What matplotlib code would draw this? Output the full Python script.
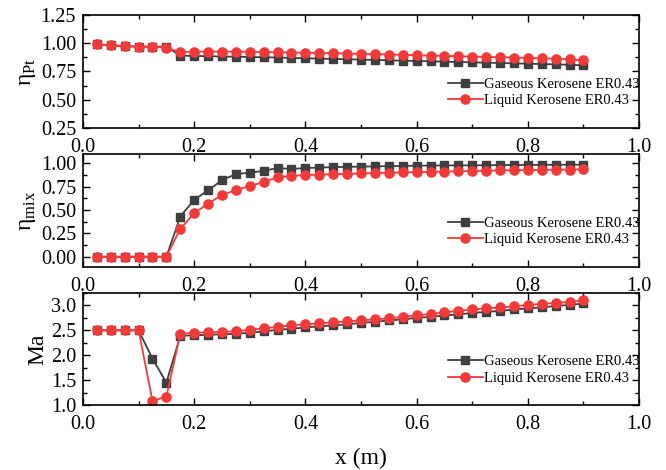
import numpy as np
import matplotlib
matplotlib.use("Agg")
import matplotlib.pyplot as plt
from matplotlib.ticker import MultipleLocator

plt.rcParams['font.family'] = ['Liberation Serif', 'DejaVu Serif']
plt.rcParams['mathtext.fontset'] = 'custom'
plt.rcParams['mathtext.rm'] = 'Liberation Serif'

# axial stations along the combustor
x = [0.025 * k for k in range(1, 37)]

eta_pt_gas = [0.99, 0.98, 0.975, 0.97, 0.97, 0.97,
              0.89, 0.888, 0.885, 0.883, 0.881, 0.878, 0.876, 0.873, 0.870, 0.867,
              0.864, 0.861, 0.858, 0.855, 0.852, 0.849, 0.846, 0.843, 0.840, 0.837,
              0.834, 0.831, 0.828, 0.825, 0.822, 0.819, 0.816, 0.813, 0.810, 0.803]
eta_pt_liq = [0.99, 0.98, 0.975, 0.97, 0.97, 0.96,
              0.92, 0.926, 0.926, 0.926, 0.925, 0.924, 0.922, 0.920, 0.918, 0.916,
              0.914, 0.912, 0.909, 0.906, 0.903, 0.900, 0.897, 0.894, 0.891, 0.888,
              0.885, 0.882, 0.879, 0.876, 0.873, 0.870, 0.867, 0.863, 0.858, 0.848]

eta_mix_gas = [0, 0, 0, 0, 0, 0,
               0.43, 0.61, 0.71, 0.82, 0.885, 0.90, 0.92, 0.95, 0.94, 0.95,
               0.955, 0.96, 0.962, 0.965, 0.968, 0.97, 0.972, 0.975, 0.976, 0.978,
               0.978, 0.98, 0.98, 0.982, 0.982, 0.983, 0.984, 0.985, 0.985, 0.986]
eta_mix_liq = [0, 0, 0, 0, 0, 0,
               0.30, 0.465, 0.57, 0.66, 0.715, 0.757, 0.80, 0.85, 0.867, 0.875,
               0.88, 0.885, 0.888, 0.892, 0.896, 0.90, 0.903, 0.906, 0.909, 0.912,
               0.915, 0.918, 0.921, 0.924, 0.926, 0.928, 0.930, 0.932, 0.934, 0.936]

ma_gas = [2.5, 2.5, 2.5, 2.5, 1.93, 1.45,
          2.39, 2.40, 2.41, 2.42, 2.43, 2.45, 2.48, 2.51, 2.53, 2.56,
          2.58, 2.60, 2.62, 2.65, 2.67, 2.70, 2.72, 2.75, 2.77, 2.80,
          2.82, 2.85, 2.87, 2.89, 2.92, 2.94, 2.96, 2.99, 3.01, 3.04]
ma_liq = [2.5, 2.5, 2.5, 2.5, 1.08, 1.17,
          2.43, 2.45, 2.46, 2.47, 2.48, 2.51, 2.54, 2.57, 2.60, 2.62,
          2.64, 2.66, 2.68, 2.70, 2.72, 2.74, 2.77, 2.80, 2.83, 2.86,
          2.89, 2.92, 2.94, 2.96, 2.98, 3.01, 3.03, 3.05, 3.07, 3.10]

lbl_gas = 'Gaseous Kerosene ER0.43'
lbl_liq = 'Liquid Kerosene ER0.43'
c_gas = '#3f3f3f'
c_liq = '#f23a3a'

fig = plt.figure(figsize=(6.66, 4.70), dpi=100)
left, width = 0.1246, 0.8349
ax1 = fig.add_axes([left, 0.7277, width, 0.2404])
ax2 = fig.add_axes([left, 0.4319, width, 0.2404])
ax3 = fig.add_axes([left, 0.1383, width, 0.2383])

panels = [
    (ax1, eta_pt_gas, eta_pt_liq, r'η$_{\mathrm{Pt}}$', (0.25, 1.25), 0.25),
    (ax2, eta_mix_gas, eta_mix_liq, r'η$_{\mathrm{mix}}$', (-0.11, 1.10), 0.25),
    (ax3, ma_gas, ma_liq, 'Ma', (1.0, 3.25), 0.5),
]

for ax, yg, yl, ylab, ylim, major in panels:
    ax.plot(x, yg, color=c_gas, marker='s', ms=5.8, lw=1.3, label=lbl_gas)
    ax.plot(x, yl, color=c_liq, marker='o', ms=6.6, lw=1.3, label=lbl_liq)
    ax.set_xlim(0, 1.0)
    ax.set_ylim(*ylim)
    ax.xaxis.set_major_locator(MultipleLocator(0.2))
    ax.xaxis.set_minor_locator(MultipleLocator(0.1))
    ax.yaxis.set_major_locator(MultipleLocator(major))
    ax.yaxis.set_minor_locator(MultipleLocator(major / 2))
    ax.tick_params(which='both', direction='in', top=True, right=True,
                   labelsize=14.5, width=1.0)
    ax.tick_params(axis='x', which='both', pad=7)
    ax.tick_params(axis='y', which='both', pad=5)
    ax.tick_params(which='major', length=5)
    ax.tick_params(which='minor', length=3)
    for s in ax.spines.values():
        s.set_linewidth(1.2)
    ax.set_ylabel(ylab, fontsize=17, labelpad=2)
    ax.legend(loc='lower right', bbox_to_anchor=(1.012, 0.13), frameon=False,
              fontsize=10.5, handlelength=2.4, handletextpad=0.1,
              labelspacing=0.2, borderaxespad=0)

ax3.set_xlabel('x (m)', fontsize=17, labelpad=10)

fig.savefig('out.png', dpi=100)
